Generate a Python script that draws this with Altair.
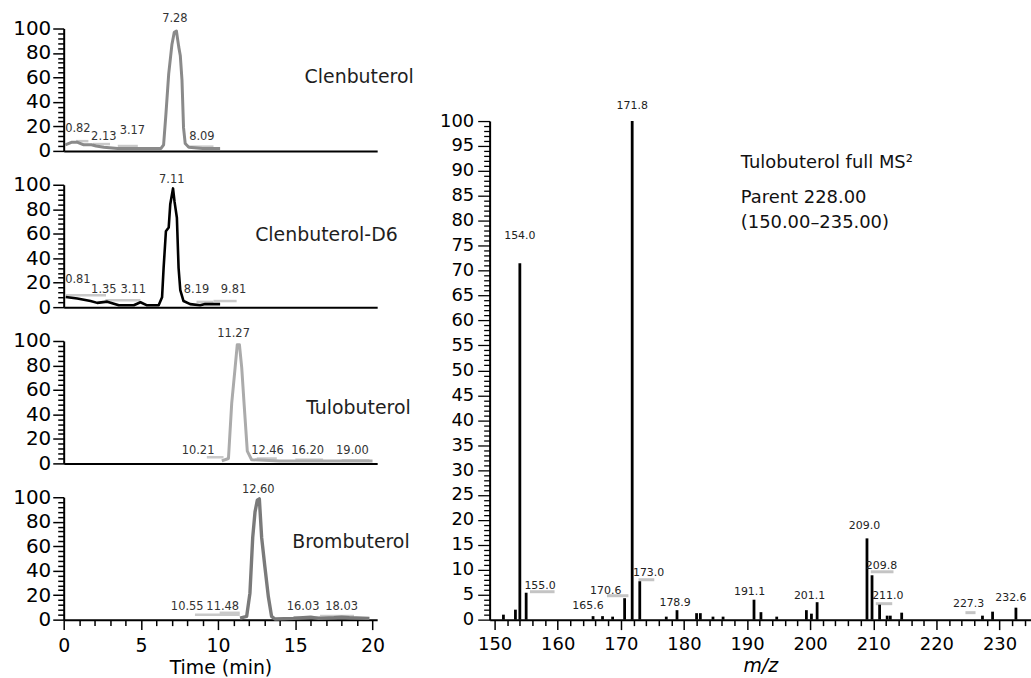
import altair as alt
import pandas as pd

FONT = "DejaVu Sans"

# ---------------- chromatogram data (time in min, relative abundance %) -------------
clen_t = [0.1, 0.5, 0.9, 1.3, 1.8, 2.1, 2.6, 3.5, 4.5, 5.5, 6.3, 6.47, 6.62, 6.8, 7.01, 7.16,
          7.3, 7.45, 7.55, 7.66, 7.76, 7.87, 8.1, 9.0, 10.13]
clen_i = [5, 7, 7, 5, 5, 4, 3, 2, 2, 2, 2, 5, 30, 63, 87, 97, 98, 85, 78, 58, 19, 6, 3, 2, 2]

d6_t = [0.13, 0.88, 1.74, 2.17, 2.82, 3.57, 4.54, 4.97, 5.4, 6.15, 6.37, 6.47, 6.62, 6.8, 6.9,
        7.08, 7.18, 7.33, 7.44, 7.55, 7.76, 8.19, 8.84, 9.16, 10.13]
d6_i = [8.3, 7, 5, 3.5, 4.5, 1.6, 1.6, 4, 1.5, 1.5, 8, 32, 62, 65, 84, 97, 86, 73, 32, 14, 5,
        2.5, 1.5, 2.5, 2.5]

tulo_t = [10.24, 10.67, 10.88, 11.1, 11.24, 11.38, 11.53, 11.68, 11.89, 12.17, 14.0, 16.0, 18.0, 20.0]
tulo_i = [2, 4, 49, 78, 97, 97, 78, 49, 10, 3, 2, 2, 2, 2]

brom_t = [11.42, 11.85, 12.06, 12.24, 12.39, 12.54, 12.67, 12.82, 13.03, 13.25, 13.46, 13.68,
          14.86, 15.5, 16.0, 16.5, 17.5, 18.0, 18.5, 19.8]
brom_i = [1.3, 2.7, 21.6, 67, 88, 97.6, 98.7, 67, 43, 19, 2.7, 0.5, 1, 1.5, 2, 1, 1.5, 2, 1.5, 1]

# faint grey baseline segments (start, end, level)
clen_seg_a = [0.8, 1.9, 3.5, 8.0]
clen_seg_b = [1.6, 3.0, 4.8, 9.7]
clen_seg_y = [8, 5.6, 4, 3.5]
d6_seg_a = [0.15, 2.7, 8.6, 9.7]
d6_seg_b = [2.74, 4.97, 9.7, 11.2]
d6_seg_y = [9.7, 5.6, 4.3, 5]
tulo_seg_a = [9.27, 12.5, 15.0, 18.0]
tulo_seg_b = [10.35, 13.8, 16.8, 19.8]
tulo_seg_y = [5, 4, 3, 2.5]
brom_seg_a = [8.5, 10.1, 14.9, 16.6]
brom_seg_b = [11.4, 11.4, 16.6, 18.8]
brom_seg_y = [4, 5.6, 2, 3]

# peak labels
clen_lab = ["0.82", "2.13", "3.17", "7.28", "8.09"]
clen_lab_x = [0.92, 2.6, 4.45, 7.2, 8.95]
clen_lab_y = [18, 11, 16, 108, 11]
d6_lab = ["0.81", "1.35", "3.11", "7.11", "8.19", "9.81"]
d6_lab_x = [0.92, 2.6, 4.5, 7.0, 8.6, 11.0]
d6_lab_y = [22, 14, 14, 104, 14, 14]
tulo_lab = ["10.21", "11.27", "12.46", "16.20", "19.00"]
tulo_lab_x = [8.7, 11.0, 13.2, 15.8, 18.7]
tulo_lab_y = [10.5, 106, 10.5, 10.5, 10.5]
brom_lab = ["10.55", "11.48", "12.60", "16.03", "18.03"]
brom_lab_x = [8.0, 10.3, 12.6, 15.5, 18.0]
brom_lab_y = [10.4, 10.4, 106, 10.4, 10.4]

names = ["Clenbuterol", "Clenbuterol-D6", "Tulobuterol", "Brombuterol"]
name_x = [15.6, 12.4, 15.7, 14.8]
name_y = [60, 59, 45, 63.5]

# ---------------- MS2 spectrum data -------------
mz = [151.4, 153.3, 154.0, 155.0, 165.6, 167.1, 168.7, 170.6, 171.8, 173.0, 177.2, 178.9,
      182.0, 182.6, 184.6, 186.2, 191.1, 192.2, 194.7, 199.4, 200.2, 201.1, 209.0, 209.8,
      211.0, 212.2, 212.7, 214.5, 227.3, 228.9, 232.6]
abund = [1.0, 2.0, 71.5, 5.4, 0.7, 0.7, 0.6, 4.3, 100, 7.7, 0.6, 1.9, 1.3, 1.3, 0.6, 0.6,
         4.0, 1.5, 0.6, 1.9, 1.2, 3.5, 16.3, 8.9, 3.0, 0.8, 0.8, 1.4, 0.8, 1.6, 2.4]

spec_lab = ["154.0", "171.8", "155.0", "165.6", "170.6", "173.0", "178.9", "191.1", "201.1",
            "209.0", "209.8", "211.0", "227.3", "232.6"]
spec_lab_x = [154.0, 171.8, 157.2, 164.8, 167.6, 174.4, 178.6, 190.4, 199.9, 208.6, 211.3,
              212.3, 225.1, 231.8]
spec_lab_y = [77, 103, 6.8, 2.8, 5.8, 9.4, 3.4, 5.6, 4.8, 18.8, 10.8, 4.8, 3.2, 4.4]

spec_seg_a = [155.6, 167.8, 172.8, 209.6, 210.4, 224.6]
spec_seg_b = [159.5, 171.2, 175.3, 213.2, 213.0, 226.2]
spec_seg_y = [5.6, 4.8, 8.0, 9.6, 3.2, 1.4]

info_text = ["Tulobuterol full MS\u00b2", "Parent 228.00", "(150.00\u2013235.00)"]
info_x = [189.0, 189.0, 189.0]
info_y = [91.5, 84.5, 79.5]

# ---------------- left panels -------------
PW, PH = 315, 123


def cond(test, big, small):
    return {"condition": {"test": test, "value": big}, "value": small}


def chrom_panel(t, inten, color, sw, sa, sb, sy, lab, lx, ly, name, nx, ny, bottom):
    xs = alt.Scale(domain=[0, 20.3], nice=False, zero=False)
    ys = alt.Scale(domain=[0, 100], nice=False)
    if bottom:
        xaxis = alt.Axis(values=list(range(0, 21)),
                         labelExpr="datum.value % 5 == 0 ? datum.label : ''",
                         tickSize=cond("datum.value % 5 == 0", 10, 6),
                         labelFontSize=19, labelPadding=7, labelOverlap=False, labelFlush=False,
                         title="Time (min)", titleFontSize=19, titleFontWeight="normal",
                         titlePadding=3, titleFont=FONT, domainWidth=2, tickWidth=1.5)
    else:
        xaxis = alt.Axis(labels=False, ticks=False, title="", domainWidth=2)
    yaxis = alt.Axis(values=list(range(0, 101, 4)),
                     labelExpr="datum.value % 20 == 0 ? datum.label : ''",
                     tickSize=cond("datum.value % 20 == 0", 11, 6),
                     labelFontSize=20, labelPadding=2, labelOverlap=False, labelFlush=False,
                     title="", domainWidth=2, tickWidth=1.5)
    df = pd.DataFrame({"t": t, "i": inten})
    sdf = pd.DataFrame({"a": sa, "b": sb, "lvl": sy})
    ldf = pd.DataFrame({"txt": lab, "x": lx, "y": ly})
    ndf = pd.DataFrame({"txt": [name], "x": [nx], "y": [ny]})
    segs = alt.Chart(sdf).mark_rule(color="#c9c9c9", strokeWidth=2.5).encode(
        x=alt.X("a:Q", scale=xs, axis=xaxis), x2="b:Q",
        y=alt.Y("lvl:Q", scale=ys, axis=yaxis))
    line = alt.Chart(df).mark_line(color=color, strokeWidth=sw, strokeJoin="round").encode(
        x=alt.X("t:Q", scale=xs, axis=xaxis), y=alt.Y("i:Q", scale=ys, axis=yaxis))
    labels = alt.Chart(ldf).mark_text(font=FONT, fontSize=11.5, color="#333333").encode(
        x=alt.X("x:Q", scale=xs, axis=xaxis), y=alt.Y("y:Q", scale=ys, axis=yaxis), text="txt:N")
    nm = alt.Chart(ndf).mark_text(font=FONT, fontSize=19, align="left", color="#1e1e1e").encode(
        x=alt.X("x:Q", scale=xs, axis=xaxis), y=alt.Y("y:Q", scale=ys, axis=yaxis), text="txt:N")
    return alt.layer(segs, line, labels, nm).properties(width=PW, height=PH)


p1 = chrom_panel(clen_t, clen_i, "#8a8a8a", 3, clen_seg_a, clen_seg_b, clen_seg_y,
                 clen_lab, clen_lab_x, clen_lab_y, names[0], name_x[0], name_y[0], False)
p2 = chrom_panel(d6_t, d6_i, "#000000", 2.6, d6_seg_a, d6_seg_b, d6_seg_y,
                 d6_lab, d6_lab_x, d6_lab_y, names[1], name_x[1], name_y[1], False)
p3 = chrom_panel(tulo_t, tulo_i, "#ababab", 3, tulo_seg_a, tulo_seg_b, tulo_seg_y,
                 tulo_lab, tulo_lab_x, tulo_lab_y, names[2], name_x[2], name_y[2], False)
p4 = chrom_panel(brom_t, brom_i, "#7a7a7a", 3.4, brom_seg_a, brom_seg_b, brom_seg_y,
                 brom_lab, brom_lab_x, brom_lab_y, names[3], name_x[3], name_y[3], True)

left = alt.vconcat(p1, p2, p3, p4, spacing=34, bounds="flush")

# ---------------- right spectrum -------------
SW, SH = 544, 501
xs2 = alt.Scale(domain=[150, 234.2], nice=False, zero=False)
ys2 = alt.Scale(domain=[0, 100], nice=False)
xaxis2 = alt.Axis(values=list(range(150, 235, 2)),
                  labelExpr="datum.value % 10 == 0 ? datum.label : ''",
                  tickSize=cond("datum.value % 10 == 0", 10, 6),
                  labelFontSize=18, labelPadding=6, labelOverlap=False, labelFlush=False,
                  title="m/z", titleFontStyle="italic", titleFontSize=19, titleFontWeight="normal",
                  titleFont=FONT, titlePadding=3, domainWidth=2, tickWidth=1.5)
yaxis2 = alt.Axis(values=list(range(0, 101)),
                  labelExpr="datum.value % 5 == 0 ? datum.label : ''",
                  tickSize=cond("datum.value % 5 == 0", 12, 6),
                  labelFontSize=18, labelPadding=4, labelOverlap=False, labelFlush=False,
                  title="", domainWidth=2, tickWidth=1.3)

sdf = pd.DataFrame({"mz": mz, "ab": abund})
sldf = pd.DataFrame({"txt": spec_lab, "x": spec_lab_x, "y": spec_lab_y})
ssdf = pd.DataFrame({"a": spec_seg_a, "b": spec_seg_b, "lvl": spec_seg_y})
idf = pd.DataFrame({"txt": info_text, "x": info_x, "y": info_y})

s_segs = alt.Chart(ssdf).mark_rule(color="#c4c4c4", strokeWidth=3).encode(
    x=alt.X("a:Q", scale=xs2, axis=xaxis2), x2="b:Q", y=alt.Y("lvl:Q", scale=ys2, axis=yaxis2))
s_bars = alt.Chart(sdf).mark_bar(size=2.8, color="#000000").encode(
    x=alt.X("mz:Q", scale=xs2, axis=xaxis2), y=alt.Y("ab:Q", scale=ys2, axis=yaxis2))
s_labels = alt.Chart(sldf).mark_text(font=FONT, fontSize=11, color="#222222").encode(
    x=alt.X("x:Q", scale=xs2, axis=xaxis2), y=alt.Y("y:Q", scale=ys2, axis=yaxis2), text="txt:N")
s_info = alt.Chart(idf).mark_text(font=FONT, fontSize=18, align="left", color="#111111").encode(
    x=alt.X("x:Q", scale=xs2, axis=xaxis2), y=alt.Y("y:Q", scale=ys2, axis=yaxis2), text="txt:N")
spectrum = alt.layer(s_segs, s_bars, s_labels, s_info).properties(width=SW, height=SH)

spacer = alt.Chart(pd.DataFrame({"s": [""]})).mark_text().encode(
    text="s:N").properties(width=SW, height=83)

right = alt.vconcat(spacer, spectrum, spacing=10, bounds="flush")

chart = alt.hconcat(left, right, spacing=25).properties(
    padding={"left": 12, "top": 11, "right": 0, "bottom": 0}
).configure_view(stroke=None).configure_axis(
    domainColor="black", tickColor="black", labelColor="black", titleColor="black",
    labelFont=FONT, titleFont=FONT, grid=False
)

chart.save("out.html", embed_options={"renderer": "svg", "actions": False})
